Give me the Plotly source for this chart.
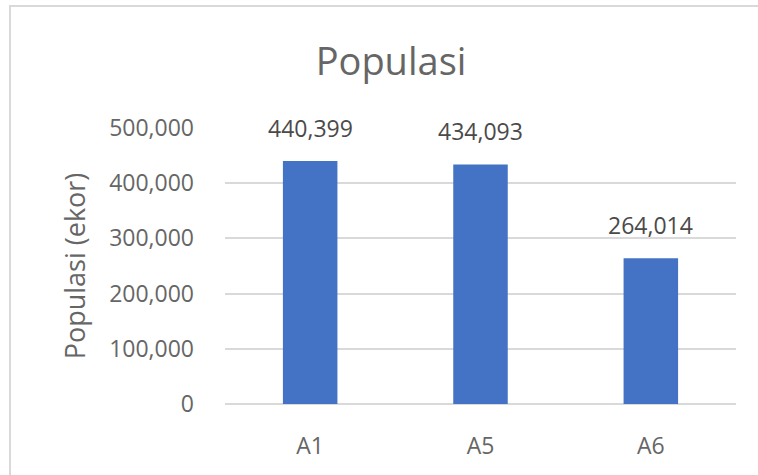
import plotly.graph_objects as go

categories = ["A1", "A5", "A6"]
populasi = [440399, 434093, 264014]
y_ticks = [0, 100000, 200000, 300000, 400000, 500000]

W, H = 758, 475
ML, MR, MT, MB = 225, 22, 128, 71

fig = go.Figure(
    go.Bar(
        x=categories,
        y=populasi,
        marker_color="#4472C4",
        marker_line_width=0,
        hoverinfo="x+y",
    )
)

# data labels above the bars, Excel-style gap
for c, v in zip(categories, populasi):
    fig.add_annotation(
        x=c, y=v, text=f"{v:,}", showarrow=False,
        yanchor="bottom", yshift=15,
        font=dict(size=23, color="#4a4a4a"),
    )

# light gray chart-area frame
pw, ph = W - ML - MR, H - MT - MB
fig.add_shape(
    type="rect", xref="paper", yref="paper",
    x0=(10 - ML) / pw, x1=(W + 20 - ML) / pw,
    y0=(H - MB - (H + 20)) / ph, y1=(H - MB - 6) / ph,
    line=dict(color="#d9d9d9", width=2), fillcolor="rgba(0,0,0,0)",
    layer="below",
)

fig.update_layout(
    width=W, height=H,
    margin=dict(l=ML, r=MR, t=MT, b=MB),
    paper_bgcolor="white",
    plot_bgcolor="white",
    font=dict(family="Open Sans", color="#666666", size=23),
    title=dict(
        text="Populasi", x=391 / W, xref="container", xanchor="center",
        y=1 - 62 / H, yanchor="middle",
        font=dict(size=38, color="#666666"),
    ),
    bargap=0.68,
    showlegend=False,
)
fig.update_xaxes(
    showgrid=False, showline=False, zeroline=False,
    ticks="", ticklabelstandoff=26,
    tickfont=dict(size=23, color="#666666"),
)
fig.update_yaxes(
    range=[0, 500000], tickvals=y_ticks, tickformat=",",
    showgrid=True, gridcolor="#d9d9d9", gridwidth=1.5,
    zeroline=True, zerolinecolor="#d9d9d9", zerolinewidth=1.5,
    showline=False, ticks="", ticklabelstandoff=30,
    tickfont=dict(size=23, color="#666666"),
    title=dict(text="Populasi (ekor)", standoff=15,
               font=dict(size=27, color="#666666")),
)

fig.write_html(
    "out.html",
    config={"displayModeBar": False},
    post_script="document.body.style.margin='0';",
)
